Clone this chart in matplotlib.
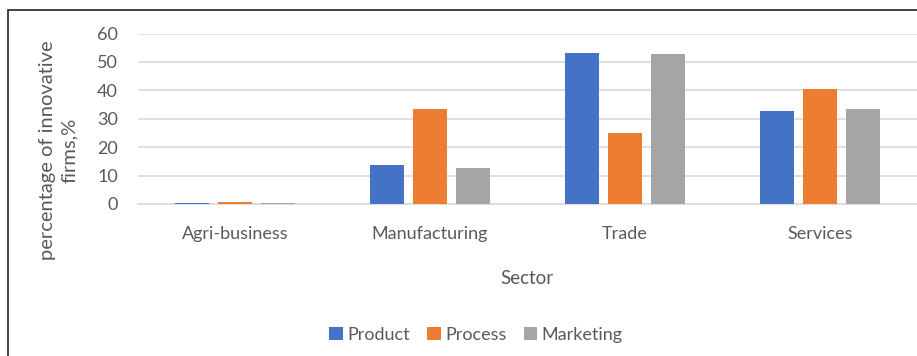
import matplotlib
matplotlib.use("Agg")
import matplotlib.pyplot as plt
import numpy as np
from matplotlib.patches import Rectangle

categories = ["Agri-business", "Manufacturing", "Trade", "Services"]
product = [0.3, 13.6, 53.0, 32.7]
process = [0.6, 33.4, 24.9, 40.6]
marketing = [0.2, 12.7, 52.9, 33.6]
series_names = ["Product", "Process", "Marketing"]
colors = ["#4472C4", "#ED7D31", "#A5A5A5"]
yticks = [0, 10, 20, 30, 40, 50, 60]

plt.rcParams['font.family'] = ['Lato', 'DejaVu Sans']
W, H = 917, 356
fig = plt.figure(figsize=(W/100, H/100), dpi=100)

# outer border
fig.patches.append(Rectangle((8/W, -0.1), 1.2, 1 - 10/H + 0.1, transform=fig.transFigure,
                             fill=False, edgecolor="#222222", linewidth=1.2))

ax = fig.add_axes([137.5/W, 1 - 204/H, 780/W, (204 - 33.5)/H])
x = np.arange(len(categories))
bw = 0.175
step = 0.22
for i, (vals, name, c) in enumerate(zip([product, process, marketing], series_names, colors)):
    ax.bar(x + (i - 1) * step, vals, width=bw, color=c, label=name, zorder=3,
           linewidth=0)

ax.set_xlim(-0.5, len(categories) - 0.5)
ax.set_ylim(0, 60)
ax.set_yticks(yticks)
ax.set_xticks(x)
ax.set_xticklabels(categories)
ax.grid(axis="y", color="#D9D9D9", linewidth=1.2, zorder=0)
for s in ["top", "right", "left"]:
    ax.spines[s].set_visible(False)
ax.spines["bottom"].set_color("#D9D9D9")
ax.spines["bottom"].set_linewidth(1.2)
ax.tick_params(axis="both", length=0, colors="#595959", labelsize=13)
ax.tick_params(axis="x", pad=16)
ax.tick_params(axis="y", pad=14)

fig.text(58/W, 1 - 150/H, "percentage of innovative\nfirms,%", rotation=90,
         ha="center", va="center", fontsize=14.5, color="#595959", linespacing=1.35)
fig.text(527/W, 1 - 279/H, "Sector", ha="center", va="center", fontsize=13.5, color="#595959")

leg = fig.legend(loc="center", bbox_to_anchor=(476/W, 1 - 335/H), ncol=3, frameon=False,
                 fontsize=13, handlelength=0.75, handleheight=0.75, handletextpad=0.25,
                 columnspacing=0.95, labelcolor="#595959")

fig.savefig("out.png", dpi=100)
